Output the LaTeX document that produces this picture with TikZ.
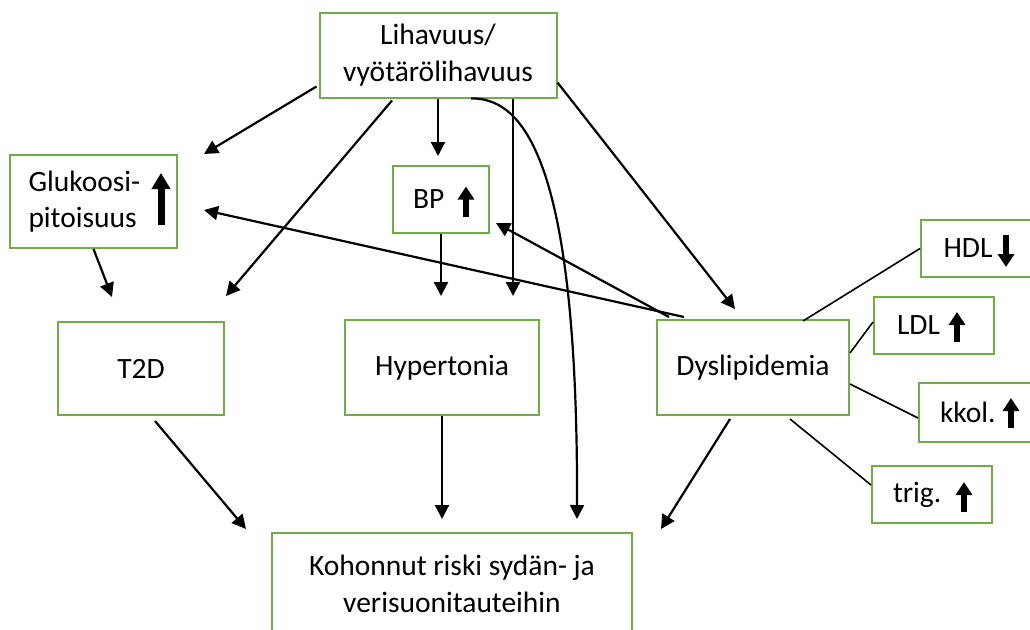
\documentclass[tikz,border=0pt]{standalone}
\usepackage{fontspec}
\setmainfont{Carlito}
\usetikzlibrary{calc}
\usetikzlibrary{arrows.meta}
\usepackage{xcolor}
\definecolor{boxgreen}{RGB}{112,173,71}

\begin{document}
\begin{tikzpicture}[x=1pt,y=-1pt,
  box/.style={draw=boxgreen, line width=2pt, fill=white, inner sep=0pt, align=center,
    font=\fontsize{29.5}{36.5}\selectfont},
  arr/.style={black, line width=2.2pt, -{Triangle[length=14pt,width=14pt]}},
  lnk/.style={black, line width=1.6pt},
  blkup/.style={black, line width=6pt, -{Triangle[length=13pt,width=16pt]}}]
\useasboundingbox (0,0) rectangle (1030,629);
\clip (0,0) rectangle (1030,629);
% boxes
\node[box, minimum width=237pt, minimum height=85pt] (lih) at (438,55) {Lihavuus/\\vyötärölihavuus};
\node[box, minimum width=167pt, minimum height=93pt, text width=130pt, align=left] (gluk) at (93.5,201.5) {Glukoosi-\\pitoisuus};
\node[box, minimum width=96pt, minimum height=67pt, text width=56pt, align=left] (bp) at (441,199.5) {BP};
\node[box, minimum width=166pt, minimum height=93pt] (t2d) at (141,368.5) {T2D};
\node[box, minimum width=194pt, minimum height=95pt] (hyp) at (442,367.5) {Hypertonia};
\node[box, minimum width=192pt, minimum height=95pt] (dys) at (753,367.5) {Dyslipidemia};
\node[box, minimum width=360pt, minimum height=102pt] (risk) at (452,584) {Kohonnut riski sydän- ja\\verisuonitauteihin};
\node[box, minimum width=115pt, minimum height=57pt, text width=70pt, align=left] (hdl) at (978.5,248.5) {HDL};
\node[box, minimum width=120pt, minimum height=57pt, text width=74pt, align=left] (ldl) at (934,325.5) {LDL};
\node[box, minimum width=115pt, minimum height=59pt, text width=73pt, align=left] (kkol) at (976.5,412.5) {kkol.};
\node[box, minimum width=120pt, minimum height=57pt, text width=78pt, align=left] (trig) at (932,494.5) {trig.};
% block arrows in the boxes
\draw[blkup, line width=7pt, -{Triangle[length=16pt,width=18pt]}] ($(gluk.east)+(-17,23.5)$) --++(0,-52);
\draw[blkup] ($(bp.east)+(-24,17)$) --++(0,-30);
\draw[blkup] ($(hdl.west)+(86,-13.5)$) --++(0,32);
\draw[blkup] ($(ldl.west)+(84,16.5)$) --++(0,-30);
\draw[blkup] ($(kkol.west)+(93,15.5)$) --++(0,-30);
\draw[blkup] ($(trig.west)+(93,17.5)$) --++(0,-30);
% arrows
\coordinate (lihr) at ($(lih.south)+(75,0)$);
\draw[arr] ($(lih.south west)+(-2,-12)$) -- ($(gluk.north east)+(26,0)$);
\draw[arr] ($(lih.south)+(-46,2)$) -- ($(t2d.north east)+(1,-25)$);
\draw[arr, shorten >=9pt] (lih.south) -- (lih.south |- bp.north);
\draw[arr, shorten >=23pt] (lihr) -- (lihr |- hyp.north);
\draw[arr] ($(lih.south)+(33,0)$) .. controls (530,97) and (578,180) .. ($(risk.north west)+(306,-13)$);
\draw[arr] ($(lih.east)+(0,27.5)$) -- ($(dys.north)+(-18,-10)$);
\draw[arr] (gluk.south) -- ($(t2d.north)+(-29,-24)$);
\draw[arr] ($(dys.north west)+(28,-2)$) -- ($(gluk.east)+(26,8.5)$);
\draw[arr] ($(dys.north west)+(13,-2)$) -- ($(bp.south east)+(6,-11)$);
\draw[arr, shorten >=23pt] (bp.south) -- (bp.south |- hyp.north);
\draw[arr] ($(t2d.south)+(14,5)$) -- ($(risk.north west)+(-25,-3)$);
\draw[arr, shorten >=13pt] (hyp.south) -- (hyp.south |- risk.north);
\draw[arr] ($(dys.south)+(-23,3)$) -- ($(risk.north east)+(28,-3)$);
% lipid lines
\draw[lnk] ($(dys.north)+(50,2)$) -- (hdl.west);
\draw[lnk] ($(dys.east)+(0,-14.5)$) -- ($(ldl.west)+(0,-3.5)$);
\draw[lnk] ($(dys.east)+(0,16.5)$) -- ($(kkol.west)+(0,5.5)$);
\draw[lnk] ($(dys.south)+(37,3)$) -- ($(trig.west)+(0,-9.5)$);
\end{tikzpicture}
\end{document}
